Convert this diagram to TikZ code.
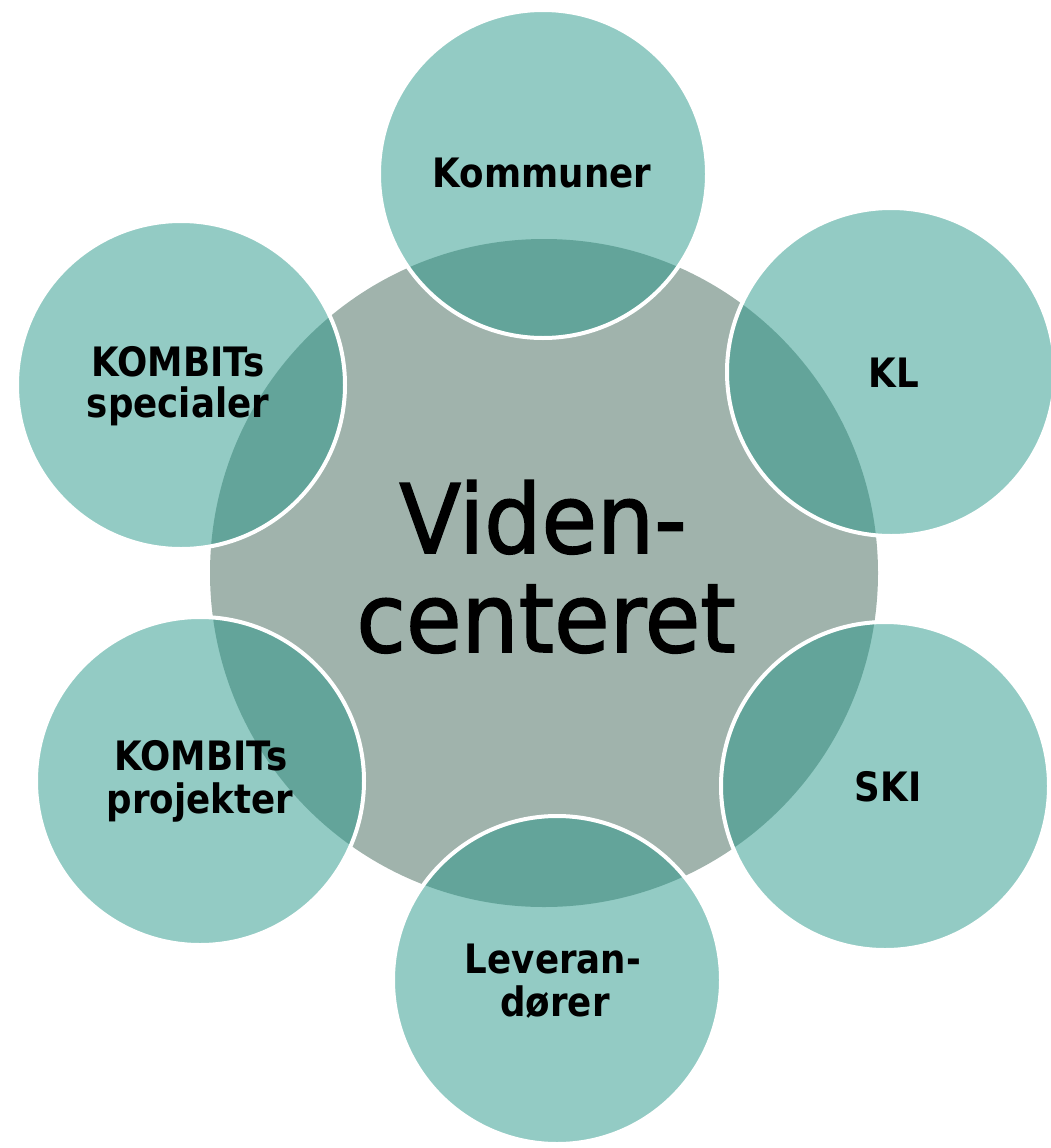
\documentclass[tikz,border=0pt]{standalone}
\usepackage{fontspec}
\setmainfont[FakeStretch=0.95]{DejaVu Sans}
\newfontfamily\lblfont[FakeStretch=0.88]{DejaVu Sans}
\newfontfamily\bigfont[FakeStretch=0.94,FakeBold=1.6]{DejaVu Sans}
\definecolor{ctrgray}{RGB}{160,179,172}
\definecolor{satteal}{RGB}{39,151,137}
\begin{document}
\begin{tikzpicture}[x=1pt,y=-1pt,
  satc/.style={circle, draw=white, line width=4pt, fill=satteal, fill opacity=0.5, minimum size=328pt, inner sep=0pt},
  ctrc/.style={circle, fill=ctrgray, minimum size=668pt, inner sep=0pt},
  lbl/.style={anchor=base, inner sep=0pt, font=\lblfont\bfseries\fontsize{40.5}{42}\selectfont, text=black},
  big/.style={anchor=base, inner sep=0pt, font=\bigfont\fontsize{96}{100}\selectfont, text=black}]
\useasboundingbox (0,0) rectangle (1051,1148);
\node[ctrc] (vc) at (544,573) {};
\node[satc] (kom) at (543,174) {};
\node[satc] (kl) at (891,372) {};
\node[satc] (ski) at (885,786) {};
\node[satc] (lev) at (557,980) {};
\node[satc] (kp) at (200,781) {};
\node[satc] (ks) at (181,385) {};
\node[big] (vc1) at (543,553) {Viden-};
\node[big] (vc2) at (546,652) {centeret};
\node[lbl] (komt) at (542,187) {Kommuner};
\node[lbl] (klt) at (894,387) {KL};
\node[lbl] (skit) at (888,801) {SKI};
\node[lbl] (levt1) at (553,973) {Leveran-};
\node[lbl] (levt2) at (555,1016) {dører};
\node[lbl] (kpt1) at (201,770) {KOMBITs};
\node[lbl] (kpt2) at (200,813) {projekter};
\node[lbl] (kst1) at (178,376) {KOMBITs};
\node[lbl] (kst2) at (178,417) {specialer};
\end{tikzpicture}
\end{document}
